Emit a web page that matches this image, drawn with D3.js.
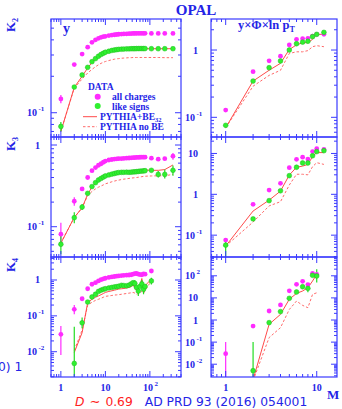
<!DOCTYPE html>
<html>
<head>
<meta charset="utf-8">
<script src="https://cdn.jsdelivr.net/npm/d3@7"></script>
<style>
  body { margin: 0; background: #fff; }
  svg { display: block; }
  .serif { font-family: "Liberation Serif", "DejaVu Serif", serif; font-weight: bold; }
</style>
</head>
<body>
<svg id="chart" width="342" height="409"></svg>
<script>
// number of bins M, left column (rapidity y) and right column (y x Phi x ln pT)
const mLeft = [1,2,3,4,5,6,7,8,9,10,12,14,16,18,20,23,26,30,34,38,42,46,50,55,60,66,72,78,108,154,216,330];
const mRight = [1,2,3,4,5,6,7,8,9,10,12];

// K2 vs y
const k2yAll  = [0.13,0.25,0.305,0.348,0.382,0.40,0.412,0.42,0.425,0.428,0.434,0.438,0.441,0.443,0.445,0.447,0.448,0.449,0.45,0.451,0.452,0.452,0.453,0.453,0.453,0.453,0.453,0.453,0.452,0.452,0.452,0.452];
const k2yLike = [0.077,0.163,0.205,0.237,0.264,0.28,0.293,0.303,0.31,0.316,0.322,0.327,0.33,0.332,0.334,0.335,0.336,0.337,0.337,0.338,0.338,0.338,0.339,0.339,0.339,0.339,0.339,0.339,0.338,0.338,0.338,0.338];
const k2yBE   = [0.07,0.162,0.2,0.234,0.26,0.276,0.29,0.3,0.308,0.314,0.321,0.326,0.329,0.331,0.333,0.334,0.335,0.336,0.336,0.337,0.337,0.337,0.338,0.338,0.338,0.338,0.338,0.338,0.338,0.338,0.338,0.338];
const k2yNoBE = [0.07,0.16,0.19,0.213,0.228,0.24,0.249,0.256,0.261,0.265,0.27,0.274,0.277,0.279,0.28,0.282,0.283,0.284,0.285,0.285,0.286,0.286,0.286,0.286,0.286,0.286,0.286,0.286,0.286,0.286,0.285,0.285];

// K3 vs y
const k3yAll  = [0.081,0.205,0.29,0.40,0.485,0.53,0.565,0.59,0.615,0.635,0.655,0.665,0.672,0.678,0.68,0.683,0.686,0.69,0.693,0.696,0.7,0.702,0.705,0.707,0.708,0.71,0.71,0.71,0.69,0.67,0.68,0.73];
const k3yLike = [0.061,0.129,0.174,0.256,0.31,0.346,0.373,0.39,0.405,0.418,0.43,0.44,0.448,0.455,0.46,0.463,0.463,0.465,0.463,0.465,0.468,0.47,0.472,0.475,0.478,0.48,0.482,0.485,0.49,0.437,0.437,0.49];
const k3yBE   = [0.063,0.13,0.17,0.25,0.305,0.34,0.365,0.385,0.4,0.415,0.43,0.44,0.45,0.458,0.465,0.47,0.472,0.475,0.478,0.48,0.482,0.484,0.486,0.488,0.49,0.492,0.494,0.495,0.49,0.49,0.5,0.57];
const k3yNoBE = [0.063,0.13,0.17,0.24,0.27,0.29,0.305,0.315,0.325,0.335,0.345,0.355,0.362,0.368,0.372,0.378,0.382,0.386,0.39,0.393,0.396,0.398,0.4,0.403,0.406,0.41,0.413,0.415,0.418,0.42,0.42,0.437];

// K4 vs y (up to M = 108)
const k4yAll  = [0.0305,0.152,0.30,0.57,0.76,0.84,0.94,1.02,1.08,1.12,1.18,1.22,1.25,1.28,1.3,1.33,1.35,1.36,1.38,1.4,1.45,1.5,1.52,1.45,1.42,1.4,1.48,1.45,1.78];
const k4yLike = [null,0.0047,0.064,0.243,0.336,0.40,0.48,0.52,0.55,0.57,0.60,0.62,0.64,0.65,0.67,0.71,0.70,0.69,0.72,0.78,0.84,0.80,0.62,0.49,0.66,0.78,0.55,0.66,0.94];
const k4yBE   = [null,0.0095,0.034,0.233,0.29,0.33,0.36,0.39,0.42,0.45,0.48,0.5,0.52,0.54,0.56,0.57,0.58,0.6,0.62,0.66,0.72,0.6,0.52,0.6,0.72,1.1,0.49,0.7,1.05];
const k4yNoBE = [null,0.011,0.04,0.196,0.24,0.27,0.29,0.31,0.33,0.35,0.36,0.37,0.38,0.385,0.39,0.4,0.41,0.42,0.43,0.44,0.45,0.43,0.4,0.42,0.44,0.48,0.42,0.52,0.94];

// K2, K3, K4 vs y x Phi x ln pT
const k2dAll  = [0.128,0.476,0.69,0.81,1.19,1.44,1.47,1.49,1.61,1.71,1.71];
const k2dLike = [0.076,0.346,0.546,0.687,1.0,1.24,1.31,1.35,1.58,1.71,1.83];
const k2dBE   = [0.07,0.346,0.5,0.634,1.02,1.19,1.28,1.29,1.44,1.71,1.71];
const k2dNoBE = [0.07,0.29,0.42,0.5,0.89,0.94,0.94,0.98,1.12,1.16,1.12];

const k3dAll  = [0.076,0.57,1.27,1.86,4.5,7.2,8.1,7.3,11.1,13.1,12.6];
const k3dLike = [0.057,0.25,0.70,1.22,2.86,4.6,5.85,5.85,8.8,11.1,11.7];
const k3dBE   = [0.054,0.39,0.72,1.2,2.97,4.6,4.9,5.4,8.4,10.5,10.5];
const k3dNoBE = [0.054,0.21,0.52,0.66,1.69,3.1,3.1,3.0,4.75,5.95,5.4];

const k4dAll  = [0.03,0.53,2.55,4.8,21,41,56,40,130,117];
const k4dLike = [null,0.0051,0.76,2.4,9.6,18.5,32,27,105,98];
const k4dBE   = [null,0.002,0.64,1.8,8.7,16,20.5,29,58,117];
const k4dNoBE = [null,0.0018,0.16,0.45,3.0,7.2,4.6,3.6,14.5,17];

// visible error bars: [M, low, high]
const k2yErrAll = [[1,0.12,0.14]];
const k2yErrLike = [[1,0.07,0.084]];
const k3yErrAll = [[1,0.058,0.112],[2,0.18,0.23],[330,0.66,0.8]];
const k3yErrLike = [[1,0.046,0.077],[2,0.11,0.15],[3,0.16,0.19],[154,0.40,0.48],[216,0.39,0.50],[330,0.42,0.56]];
const k4yErrAll = [[1,0.0081,0.052],[2,0.11,0.2]];
const k4yErrLike = [[2,0.0015,0.05],[3,0.045,0.09],[46,0.6,1.0],[55,0.36,0.64],[66,0.6,1.0],[72,0.4,0.7],[108,0.75,1.15]];
const k2dErrAll = [];
const k2dErrLike = [];
const k3dErrAll = [[1,0.068,0.085]];
const k3dErrLike = [[1,0.02,0.07]];
const k4dErrAll = [[1,0.0025,0.1]];
const k4dErrLike = [[2,0.002,0.1],[8,18,40],[10,50,200]];

// tick labels shown on each y axis
const yLabels = [[0.1],[1,0.1],[1,0.1,0.01],[1,0.1],[10,1,0.1],[100,10,1,0.1,0.01]];
const xLabelsLeft = [1,10,100];
const xLabelsRight = [1,10];
const rowNames = ["2","3","4"];

const blue = "#3a3aff", textBlue = "#2424e6", magenta = "#ff2bff", green = "#2ff02f", red = "#ff4a4a";

const svg = d3.select("#chart");

const rows = [{top: 19, bottom: 137}, {top: 137, bottom: 257}, {top: 257, bottom: 377}];
const cols = [{left: 51, right: 181, xDomain: [0.6, 500], m: mLeft, labelEnd: 40},
              {left: 211, right: 337, xDomain: [0.69, 16.7], m: mRight, labelEnd: 198}];
const yDomains = [[0.063, 0.595], [0.0426, 1.253], [0.00197, 4.38],
                  [0.051, 2.89], [0.0292, 25.3], [0.00264, 709]];
const series = [
  [k2yAll, k2yLike, k2yBE, k2yNoBE, k2yErrAll, k2yErrLike],
  [k3yAll, k3yLike, k3yBE, k3yNoBE, k3yErrAll, k3yErrLike],
  [k4yAll, k4yLike, k4yBE, k4yNoBE, k4yErrAll, k4yErrLike],
  [k2dAll, k2dLike, k2dBE, k2dNoBE, k2dErrAll, k2dErrLike],
  [k3dAll, k3dLike, k3dBE, k3dNoBE, k3dErrAll, k3dErrLike],
  [k4dAll, k4dLike, k4dBE, k4dNoBE, k4dErrAll, k4dErrLike]
];

const isMajor = t => Math.abs(Math.log10(t) - Math.round(Math.log10(t))) < 1e-6;

function powLabel(g, v, x, y, anchorEnd, baseSize, supSize) {
  const e = Math.round(Math.log10(v));
  if (e === 0 || e === 1) {
    g.append("text").attr("class", "serif").attr("x", x).attr("y", y)
      .attr("text-anchor", anchorEnd ? "end" : "middle").attr("font-size", baseSize)
      .attr("fill", textBlue).text(e === 0 ? "1" : "10");
    return;
  }
  const t = g.append("text").attr("class", "serif").attr("x", anchorEnd ? x - 3 : x - 2).attr("y", y)
    .attr("text-anchor", anchorEnd ? "end" : "middle").attr("font-size", baseSize)
    .attr("fill", textBlue).text("10");
  const bb = t.node().getBBox();
  g.append("text").attr("class", "serif").attr("x", bb.x + bb.width + 1.5).attr("y", y - 5)
    .attr("font-size", supSize).attr("fill", textBlue).text(String(e));
}

let clipId = 0;
cols.forEach((col, ci) => {
  rows.forEach((row, ri) => {
    const p = ci * 3 + ri;
    const x = d3.scaleLog().domain(col.xDomain).range([col.left, col.right]);
    const y = d3.scaleLog().domain(yDomains[p]).range([row.bottom, row.top]);
    const g = svg.append("g");
    const id = "clip" + (clipId++);
    svg.append("clipPath").attr("id", id).append("rect")
      .attr("x", col.left).attr("y", row.top)
      .attr("width", col.right - col.left).attr("height", row.bottom - row.top);
    const plot = g.append("g").attr("clip-path", `url(#${id})`);

    const [all, like, be, nobe, errAll, errLike] = series[p];
    const pts = arr => arr.map((v, i) => ({m: col.m[i], v})).filter(d => d.v != null);
    const line = d3.line().defined(d => d.v != null).x(d => x(d.m)).y(d => y(d.v));

    plot.append("path").datum(pts(nobe)).attr("d", line).attr("fill", "none")
      .attr("stroke", "#ff6a6a").attr("stroke-width", 1).attr("stroke-dasharray", "2.5,2");
    plot.append("path").datum(pts(be)).attr("d", line).attr("fill", "none")
      .attr("stroke", red).attr("stroke-width", 1);

    const errs = (list, color) => plot.selectAll(null).data(list).enter().append("line")
      .attr("x1", d => x(d[0])).attr("x2", d => x(d[0]))
      .attr("y1", d => y(d[1])).attr("y2", d => y(d[2]))
      .attr("stroke", color).attr("stroke-width", 1.2);
    errs(errAll, magenta);
    errs(errLike, "#22dd22");

    plot.selectAll(null).data(pts(all)).enter().append("circle")
      .attr("cx", d => x(d.m)).attr("cy", d => y(d.v)).attr("r", 2.4).attr("fill", magenta);
    plot.selectAll(null).data(pts(like)).enter().append("circle")
      .attr("cx", d => x(d.m)).attr("cy", d => y(d.v)).attr("r", 2.4)
      .attr("fill", green).attr("stroke", "#1fbf1f").attr("stroke-width", 0.5);

    // frame and ticks on all four sides
    g.append("rect").attr("x", col.left).attr("y", row.top)
      .attr("width", col.right - col.left).attr("height", row.bottom - row.top)
      .attr("fill", "none").attr("stroke", blue).attr("stroke-width", 1.2);
    const tk = g.append("g").attr("stroke", blue).attr("stroke-width", 1);
    x.ticks().forEach(t => {
      const len = isMajor(t) ? 6 : 3, px = x(t);
      tk.append("line").attr("x1", px).attr("x2", px).attr("y1", row.bottom).attr("y2", row.bottom - len);
      tk.append("line").attr("x1", px).attr("x2", px).attr("y1", row.top).attr("y2", row.top + len);
    });
    y.ticks().forEach(t => {
      const len = isMajor(t) ? 6 : 3, py = y(t);
      tk.append("line").attr("x1", col.left).attr("x2", col.left + len).attr("y1", py).attr("y2", py);
      tk.append("line").attr("x1", col.right).attr("x2", col.right - len).attr("y1", py).attr("y2", py);
    });

    yLabels[p].forEach(v => powLabel(svg, v, col.labelEnd, y(v) + 3.5, true, 10, 7));

    if (ri === 2) {
      (ci === 0 ? xLabelsLeft : xLabelsRight).forEach(v => powLabel(svg, v, x(v), 391, false, 10, 7));
    }
  });
});

// row titles K2, K3, K4
const kCenters = [25, 144, 265];
rowNames.forEach((n, i) => {
  const t = svg.append("text").attr("class", "serif").attr("font-size", 13).attr("fill", textBlue)
    .attr("text-anchor", "middle")
    .attr("transform", `translate(14.5,${kCenters[i]}) rotate(-90)`);
  t.append("tspan").text("K");
  t.append("tspan").attr("font-size", 8).attr("dy", 3).text(n);
});

svg.append("text").attr("class", "serif").attr("x", 196).attr("y", 15).attr("text-anchor", "middle")
  .attr("font-size", 15).attr("fill", textBlue).text("OPAL");
svg.append("text").attr("class", "serif").attr("x", 63).attr("y", 33)
  .attr("font-size", 14).attr("fill", textBlue).text("y");
const t3 = svg.append("text").attr("class", "serif").attr("x", 238).attr("y", 29)
  .attr("font-size", 12.5).attr("fill", textBlue);
t3.append("tspan").text("y\u00d7\u03a6\u00d7ln p");
t3.append("tspan").attr("font-size", 8).attr("dy", 3).text("T");
svg.append("text").attr("class", "serif").attr("x", 327).attr("y", 399)
  .attr("font-size", 13).attr("fill", textBlue).text("M");

// legend
const lg = svg.append("g").attr("class", "serif").attr("font-size", 9.5).attr("fill", textBlue);
lg.append("text").attr("x", 88).attr("y", 90).text("DATA");
lg.append("circle").attr("cx", 97.7).attr("cy", 96.7).attr("r", 3).attr("fill", magenta);
lg.append("text").attr("x", 112).attr("y", 100).text("all charges");
lg.append("circle").attr("cx", 97.7).attr("cy", 106).attr("r", 3).attr("fill", green);
lg.append("text").attr("x", 112).attr("y", 109.5).text("like signs");
lg.append("line").attr("x1", 83).attr("x2", 97).attr("y1", 116.7).attr("y2", 116.7)
  .attr("stroke", red).attr("stroke-width", 1);
const lt = lg.append("text").attr("x", 100).attr("y", 120);
lt.append("tspan").text("PYTHIA+BE");
lt.append("tspan").attr("font-size", 6.5).attr("dy", 2).text("32");
lg.append("line").attr("x1", 83).attr("x2", 97).attr("y1", 126.7).attr("y2", 126.7)
  .attr("stroke", "#ff6a6a").attr("stroke-width", 1).attr("stroke-dasharray", "2.5,2");
lg.append("text").attr("x", 100).attr("y", 130).text("PYTHIA no BE");

// footer
const ft = svg.append("text").attr("x", 75).attr("y", 405.5)
  .attr("font-family", "DejaVu Sans, sans-serif").attr("font-size", 12.3);
ft.append("tspan").attr("fill", "#ff2222").attr("font-style", "italic").text("D");
ft.append("tspan").attr("fill", "#ff2222").attr("dx", 5).attr("font-size", 13).text("\u223c");
ft.append("tspan").attr("fill", "#ff2222").attr("dx", 5).text("0.69");
ft.append("tspan").attr("fill", textBlue).attr("dx", 12).text("AD PRD 93 (2016) 054001");
svg.append("text").attr("x", -2).attr("y", 371).attr("font-family", "DejaVu Sans, sans-serif")
  .attr("font-size", 12.3).attr("fill", textBlue).text("0) 1");
</script>
</body>
</html>
